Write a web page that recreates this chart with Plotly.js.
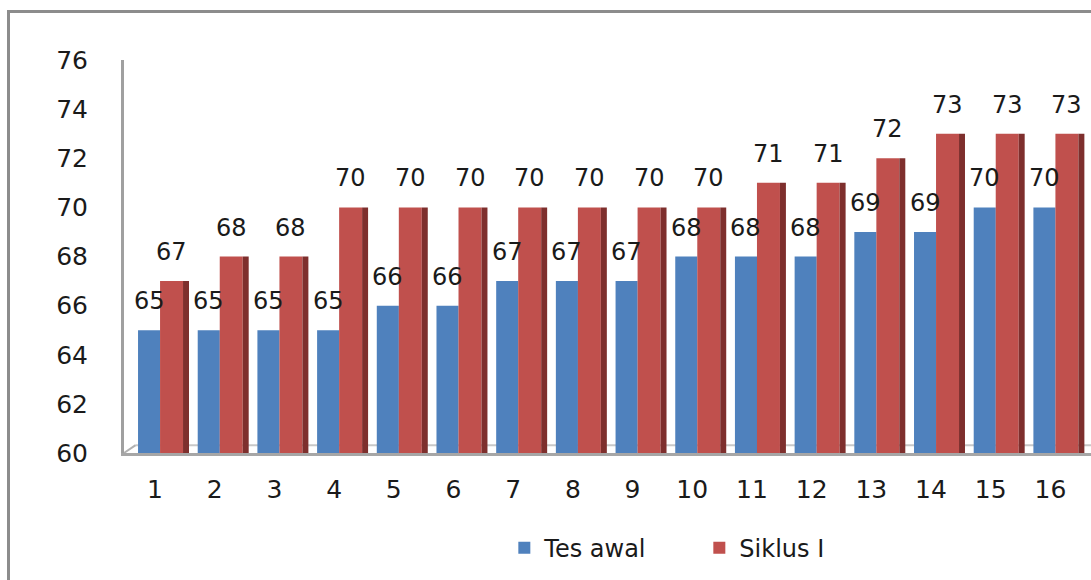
<!DOCTYPE html>
<html>
<head>
<meta charset="utf-8">
<script src="https://cdn.plot.ly/plotly-3.0.1.min.js"></script>
<style>
  html, body { margin:0; padding:0; background:#fff; overflow:hidden; }
  #wrap { position:relative; width:1091px; height:580px; }
  #chart { position:absolute; left:0; top:0; width:1091px; height:580px; }
  #frame { position:absolute; left:7px; top:10px; width:1200px; height:700px;
           border-left:3px solid #8c8c8c; border-top:3px solid #8c8c8c; pointer-events:none; }
</style>
</head>
<body>
<div id="wrap">
  <div id="chart"></div>
  <div id="frame"></div>
</div>
<script>
const categories = ['1','2','3','4','5','6','7','8','9','10','11','12','13','14','15','16'];
const tesAwal  = [65,65,65,65,66,66,67,67,67,68,68,68,69,69,70,70];
const siklusI  = [67,68,68,70,70,70,70,70,70,70,71,71,72,73,73,73];
const yTicks   = [60,62,64,66,68,70,72,74,76];

const BLUE = '#4f81bd', RED = '#c0504d', RED_SIDE = '#7e2f2d';
const blueOff = -0.285, blueW = 0.37;
const redOff = 0.084, redW = 0.385;
const sideOff = redOff + redW, sideW = 0.1;

const traces = [
  { type:'bar', name:'Tes awal', x:categories, y:tesAwal,
    marker:{color:BLUE}, offset:blueOff, width:blueW, hoverinfo:'x+y' },
  { type:'bar', name:'Siklus I', x:categories, y:siklusI,
    marker:{color:RED}, offset:redOff, width:redW, hoverinfo:'x+y' },
  { type:'bar', name:'side', x:categories, y:siklusI, showlegend:false,
    marker:{color:RED_SIDE}, offset:sideOff, width:sideW, hoverinfo:'skip' }
];

const annFont = {family:'DejaVu Sans, sans-serif', size:24, color:'#1a1a1a'};
const annotations = [];
categories.forEach((c, i) => {
  annotations.push({ x: i + blueOff + blueW/2, y: tesAwal[i], xref:'x', yref:'y',
    text:String(tesAwal[i]), showarrow:false, yanchor:'bottom', yshift:13, font:annFont });
  annotations.push({ x: i + redOff + redW/2, y: siklusI[i], xref:'x', yref:'y',
    text:String(siklusI[i]), showarrow:false, yanchor:'bottom', yshift:13, font:annFont });
});

const layout = {
  width:1091, height:580,
  margin:{l:124, r:0, t:60, b:127},
  paper_bgcolor:'#ffffff', plot_bgcolor:'#ffffff',
  barmode:'overlay',
  showlegend:true,
  legend:{orientation:'h', xref:'container', yref:'container', x:0.641, y:0.055,
          xanchor:'center', yanchor:'middle',
          font:{family:'DejaVu Sans, sans-serif', size:24, color:'#1a1a1a'},
          itemwidth:30, entrywidth:150, traceorder:'normal'},
  xaxis:{type:'category', range:[-0.52, 15.68], showgrid:false, zeroline:false,
         showline:true, linecolor:'#a6a6a6', linewidth:3,
         ticks:'outside', ticklen:12, tickcolor:'rgba(0,0,0,0)',
         tickfont:{family:'DejaVu Sans, sans-serif', size:25, color:'#1a1a1a'}},
  yaxis:{range:[60,76], tickvals:yTicks, ticktext:yTicks.map(String),
         showgrid:false, zeroline:false,
         showline:true, linecolor:'#a0a0a0', linewidth:3,
         ticks:'outside', ticklen:28, tickcolor:'rgba(0,0,0,0)',
         tickfont:{family:'DejaVu Sans, sans-serif', size:25, color:'#1a1a1a'}},
  annotations: annotations,
  shapes:[
    {type:'line', xref:'paper', yref:'paper', x0:0.012, x1:1, y0:0.02, y1:0.02,
     line:{color:'#c8c8c8', width:2}, layer:'below'},
    {type:'line', xref:'paper', yref:'paper', x0:0, x1:0.012, y0:0, y1:0.02,
     line:{color:'#b0b0b0', width:2}, layer:'below'}
  ]
};

Plotly.newPlot('chart', traces, layout, {displayModeBar:false, staticPlot:true});
</script>
</body>
</html>
